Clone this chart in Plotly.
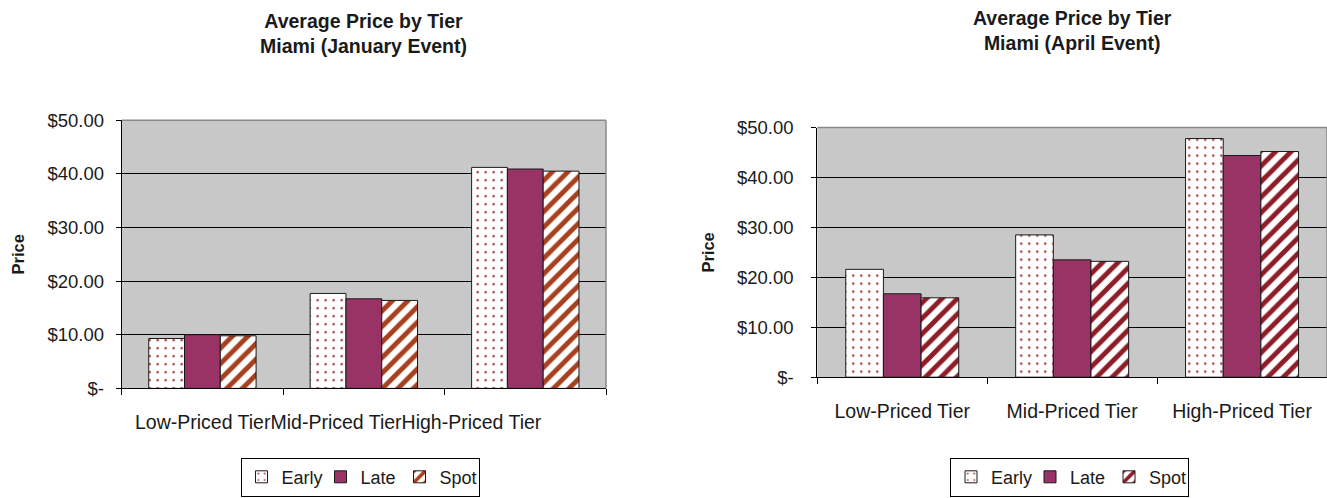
import plotly.graph_objects as go

# ---- data -------------------------------------------------------------
tiers = ["Low-Priced Tier", "Mid-Priced Tier", "High-Priced Tier"]

jan_early = [9.3, 17.7, 41.2]
jan_late = [10.0, 16.7, 40.9]
jan_spot = [9.8, 16.4, 40.5]

apr_early = [21.6, 28.5, 47.8]
apr_late = [16.7, 23.5, 44.4]
apr_spot = [15.9, 23.2, 45.2]

price_ticks = [0, 10, 20, 30, 40, 50]
price_labels = ["$-", "$10.00", "$20.00", "$30.00", "$40.00", "$50.00"]

jan_title = "Average Price by Tier<br>Miami (January Event)"
apr_title = "Average Price by Tier<br>Miami (April Event)"

# ---- styling ----------------------------------------------------------
W, H = 1327, 498
FONT = "Liberation Sans, Arial, Helvetica, sans-serif"
TEXT = "#1a1a1a"
PLUM = "#993366"
DOT = "#A8383C"
STRIPE_JAN = "#A8401E"
STRIPE_APR = "#8E1D28"
PLOT_BG = "#C8C8C8"
EDGE = "#1a1a1a"


def fx(px):
    return px / W


def fy(px):
    return 1 - px / H


fig = go.Figure()


def add_group(xa, ya, legend, early, late, spot, stripe):
    fig.add_bar(
        x=tiers, y=early, name="Early", xaxis=xa, yaxis=ya, legend=legend,
        marker=dict(color="white", line=dict(color=EDGE, width=1),
                    pattern=dict(shape=".", fgcolor=DOT, bgcolor="white",
                                 size=8, solidity=0.08, fillmode="replace")),
    )
    fig.add_bar(
        x=tiers, y=late, name="Late", xaxis=xa, yaxis=ya, legend=legend,
        marker=dict(color=PLUM, line=dict(color=EDGE, width=1)),
    )
    fig.add_bar(
        x=tiers, y=spot, name="Spot", xaxis=xa, yaxis=ya, legend=legend,
        marker=dict(color="white", line=dict(color=EDGE, width=1),
                    pattern=dict(shape="/", fgcolor=stripe, bgcolor="white",
                                 size=11, solidity=0.45, fillmode="replace")),
    )


add_group("x", "y", "legend", jan_early, jan_late, jan_spot, STRIPE_JAN)
add_group("x2", "y2", "legend2", apr_early, apr_late, apr_spot, STRIPE_APR)

# plot-area pixel boxes (left, right, top, bottom)
JAN_BOX = (121.7, 606.0, 114.0, 394.0)
APR_BOX = (817.3, 1327.0, 121.7, 382.3)


def xaxis_style(box, show_labels):
    return dict(
        domain=[fx(box[0]), fx(box[1])],
        showgrid=False, zeroline=False,
        showline=True, linecolor="black", linewidth=1,
        ticks="outside", tickson="boundaries", ticklen=6, tickcolor="black",
        showticklabels=show_labels,
        tickfont=dict(family=FONT, size=19.5, color=TEXT),
        ticklabelstandoff=16,
        fixedrange=True,
    )


def yaxis_style(box, standoff, title_standoff):
    return dict(
        domain=[fy(box[3]), fy(box[2])],
        range=[0, 50],
        tickvals=price_ticks, ticktext=price_labels,
        showgrid=True, gridcolor="black", gridwidth=1,
        zeroline=False,
        showline=True, linecolor="black", linewidth=1,
        ticks="outside", ticklen=5, tickcolor="black",
        tickfont=dict(family=FONT, size=18.5, color=TEXT),
        ticklabelstandoff=standoff,
        title=dict(text="<b>Price</b>", font=dict(family=FONT, size=16.5, color=TEXT),
                   standoff=title_standoff),
        fixedrange=True,
    )


legend_common = dict(
    orientation="h", xanchor="center", yanchor="bottom",
    bgcolor="white", bordercolor="black", borderwidth=1,
    font=dict(family=FONT, size=18, color=TEXT),
    entrywidth=34, entrywidthmode="pixels",
    traceorder="normal",
)

fig.update_layout(
    width=W, height=H,
    margin=dict(l=0, r=0, t=0, b=0),
    paper_bgcolor="white", plot_bgcolor=PLOT_BG,
    font=dict(family=FONT, color=TEXT),
    barmode="group", bargap=0.335, bargroupgap=0,
    xaxis=dict(anchor="y", **xaxis_style(JAN_BOX, False)),
    yaxis=dict(anchor="x", **yaxis_style(JAN_BOX, 8, 18)),
    xaxis2=dict(anchor="y2", **xaxis_style(APR_BOX, True)),
    yaxis2=dict(anchor="x2", **yaxis_style(APR_BOX, 14, 18)),
    legend=dict(x=fx(360), y=fy(507), **legend_common),
    legend2=dict(x=fx(1069.5), y=fy(507), **legend_common),
    showlegend=True,
)

# plot-area border on the top and right edges
for xr, yr in (("x domain", "y domain"), ("x2 domain", "y2 domain")):
    fig.add_shape(type="line", xref=xr, yref=yr, x0=0, x1=1, y0=1, y1=1,
                  line=dict(color="#8a8a8a", width=1.5), layer="above")
    fig.add_shape(type="line", xref=xr, yref=yr, x0=1, x1=1, y0=0, y1=1,
                  line=dict(color="#8a8a8a", width=1.5), layer="above")

# chart titles
fig.add_annotation(text="<b>" + jan_title + "</b>", xref="x domain", x=0.5, yref="paper",
                   y=fy(23.5), yanchor="middle", showarrow=False,
                   font=dict(family=FONT, size=19.5, color=TEXT))
fig.add_annotation(text="<b>" + apr_title + "</b>", xref="x2 domain", x=0.5, yref="paper",
                   y=fy(20), yanchor="middle", showarrow=False,
                   font=dict(family=FONT, size=19.5, color=TEXT))

# January category labels run together as one line beneath the axis
fig.add_annotation(text="".join(tiers), xref="x domain", x=(133 - 121.7) / (606 - 121.7),
                   xanchor="left", yref="y domain", y=0, yanchor="top", yshift=-21,
                   showarrow=False, font=dict(family=FONT, size=19.5, color=TEXT))

fig.write_html("out.html")
